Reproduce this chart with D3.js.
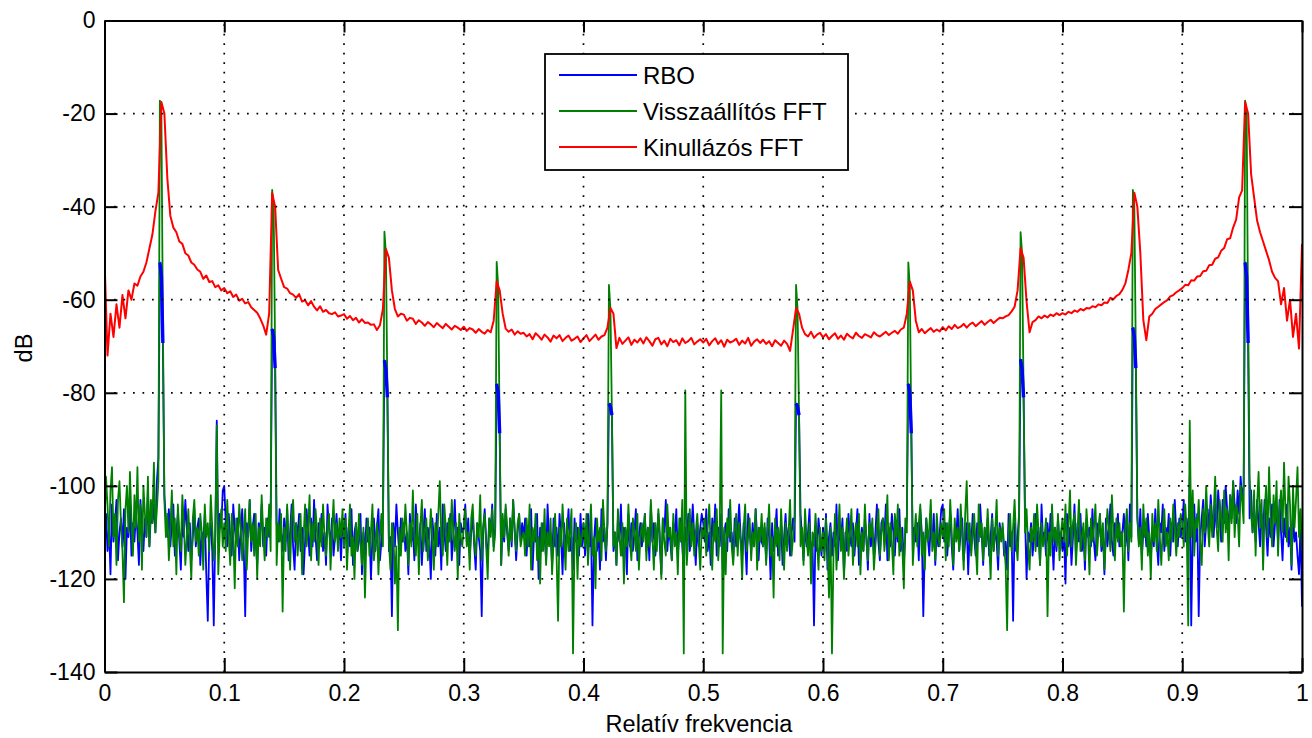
<!DOCTYPE html>
<html><head><meta charset="utf-8">
<script src="https://cdn.jsdelivr.net/npm/d3@7"></script>
<style>
body{margin:0;background:#fff}
svg{display:block}
</style>
</head><body>
<svg id="c" width="1312" height="738"></svg>
<script>
// ---------------- data ----------------
const noiseStep = 0.00125;   // bin spacing of the RBO / Visszaállítós spectra (0 .. 1)
const kinullStep = 0.0025;   // bin spacing of the sampled Kinullázós curve (0 .. 1)
const xTicks = [0,0.1,0.2,0.3,0.4,0.5,0.6,0.7,0.8,0.9,1];
const xTickLabels = ["0","0.1","0.2","0.3","0.4","0.5","0.6","0.7","0.8","0.9","1"];
const yTicks = [0,-20,-40,-60,-80,-100,-120,-140];
const yTickLabels = ["0","-20","-40","-60","-80","-100","-120","-140"];
const seriesNames = ["RBO","Visszaállítós FFT","Kinullázós FFT"];
const seriesColors = ["#0000ff","#008000","#ff0000"];
const xLabel = "Relatív frekvencia";
const yLabel = "dB";

// RBO (blue) noise floor, one value per bin
const rboNoise = [
-111,-106,-114,-109,-119,-104,-112,-108,-103,-116,-110,-107,-113,-105,-120,-109,-111,-104,-115,-108,
-112,-106,-110,-117,-103,-109,-114,-107,-111,-101,-113,-106,-108,-104,-110,-99,-94,-105,-107,-103,
-102,-107,-111,-105,-113,-108,-104,-115,-110,-106,-112,-118,-107,-111,-103,-109,-114,-108,-116,-111,
-105,-113,-109,-107,-117,-110,-112,-106,-119,-129,-111,-108,-114,-130,-110,-86,-112,-106,-109,-101,
-100,-108,-113,-106,-111,-115,-104,-109,-112,-107,-116,-110,-105,-113,-128,-108,-111,-103,-114,-109,
-106,-112,-117,-108,-110,-104,-113,-109,-115,-107,-111,-106,-113,-110,-118,-108,-112,-105,-110,-114,
-107,-112,-105,-116,-110,-104,-113,-118,-108,-111,-106,-114,-109,-119,-112,-105,-110,-115,-107,-113,
-103,-111,-116,-108,-112,-106,-114,-110,-117,-104,-109,-113,-107,-115,-111,-106,-112,-109,-116,-108,
-111,-106,-115,-109,-113,-105,-117,-110,-108,-114,-112,-106,-119,-110,-115,-107,-112,-109,-120,-111,
-107,-114,-109,-105,-116,-112,-108,-113,-110,-106,-114,-111,-128,-108,-113,-104,-110,-115,-107,-112,
-108,-114,-110,-119,-106,-112,-109,-116,-104,-111,-113,-108,-117,-110,-105,-114,-109,-112,-120,-107,
-111,-115,-106,-113,-109,-118,-104,-110,-114,-108,-112,-106,-116,-111,-103,-113,-109,-117,-108,-110,
-109,-104,-112,-107,-115,-110,-106,-113,-118,-108,-111,-114,-128,-109,-105,-112,-116,-107,-110,-104,
-113,-109,-115,-106,-111,-117,-108,-112,-105,-110,-114,-107,-113,-103,-109,-116,-110,-106,-112,-108,
-111,-107,-115,-109,-113,-105,-118,-110,-112,-106,-120,-109,-114,-108,-111,-116,-104,-112,-110,-117,
-107,-113,-109,-115,-106,-111,-119,-108,-113,-110,-105,-114,-111,-118,-107,-112,-109,-115,-106,-113,
-108,-115,-111,-106,-113,-109,-130,-112,-107,-114,-110,-118,-105,-112,-109,-116,-108,-113,-111,-106,
-114,-110,-117,-107,-112,-104,-115,-109,-111,-119,-106,-113,-108,-114,-110,-105,-116,-111,-108,-113,
-110,-106,-114,-109,-116,-104,-112,-108,-115,-111,-106,-113,-119,-107,-110,-103,-114,-109,-112,-116,
-108,-111,-105,-115,-110,-107,-113,-118,-109,-112,-106,-114,-110,-104,-111,-117,-108,-113,-109,-106,
-108,-112,-105,-114,-110,-117,-107,-111,-104,-115,-109,-113,-106,-118,-110,-108,-114,-105,-112,-110,
-116,-107,-113,-109,-104,-111,-115,-108,-112,-119,-106,-110,-114,-108,-113,-105,-111,-116,-109,-112,
-113,-109,-116,-107,-111,-120,-108,-114,-110,-105,-115,-112,-108,-117,-111,-106,-113,-109,-115,-110,
-107,-112,-118,-109,-114,-106,-111,-116,-108,-113,-110,-105,-117,-112,-130,-109,-114,-107,-111,-115,
-109,-114,-106,-118,-111,-108,-115,-110,-113,-104,-116,-109,-112,-107,-119,-110,-114,-106,-111,-113,
-108,-115,-110,-105,-117,-112,-109,-114,-107,-111,-118,-106,-113,-109,-115,-110,-104,-112,-116,-108,
-107,-111,-104,-116,-109,-113,-106,-110,-115,-108,-112,-105,-114,-109,-117,-110,-107,-113,-111,-106,
-114,-109,-112,-108,-116,-105,-110,-128,-113,-107,-111,-115,-108,-112,-106,-117,-109,-113,-110,-105,
-104,-112,-108,-115,-110,-106,-113,-118,-109,-111,-105,-114,-110,-107,-116,-112,-108,-119,-110,-113,
-106,-111,-115,-108,-112,-104,-110,-117,-109,-113,-107,-115,-111,-106,-114,-109,-112,-118,-108,-111,
-109,-115,-112,-118,-106,-113,-110,-129,-108,-114,-111,-106,-116,-109,-113,-107,-120,-110,-112,-108,
-115,-111,-106,-113,-109,-117,-104,-112,-110,-115,-108,-113,-106,-111,-118,-109,-114,-107,-112,-110,
-114,-110,-121,-106,-113,-109,-117,-111,-104,-115,-108,-112,-106,-114,-110,-118,-107,-111,-109,-113,
-105,-112,-116,-108,-111,-106,-114,-110,-119,-107,-113,-109,-104,-112,-115,-108,-111,-106,-113,-110,
-110,-106,-113,-108,-116,-104,-111,-109,-114,-118,-107,-112,-105,-115,-110,-108,-113,-106,-111,-116,
-109,-113,-105,-112,-117,-108,-110,-104,-114,-109,-111,-106,-115,-108,-112,-103,-110,-113,-107,-111,
-109,-103,-112,-107,-114,-105,-130,-110,-104,-112,-106,-128,-111,-107,-103,-113,-108,-105,-110,-102,
-107,-111,-104,-109,-101,-106,-112,-103,-108,-100,-105,-110,-102,-107,-99,-104,-108,-101,-106,-98,
-103,-100,-109,-104,-96,-107,-101,-110,-105,-112,-103,-108,-113,-106,-110,-103,-109,-115,-107,-111,
-104,-113,-108,-106,-112,-103,-110,-116,-107,-111,-104,-113,-109,-118,-106,-112,-110,-115,-119,-108,
-126];

// Visszaállítós FFT (green) noise floor, one value per bin
const visszNoise = [
-109,-98,-104,-113,-101,-96,-111,-106,-117,-103,-99,-108,-114,-125,-105,-100,-110,-97,-107,-115,
-102,-109,-96,-112,-104,-118,-100,-106,-111,-98,-113,-103,-108,-95,-110,-105,-99,-112,-104,-107,
-103,-111,-106,-116,-109,-101,-113,-107,-119,-104,-110,-114,-102,-108,-117,-111,-105,-113,-120,-107,
-103,-112,-109,-115,-106,-110,-118,-104,-111,-108,-114,-102,-109,-116,-112,-106,-119,-110,-105,-113,
-108,-114,-103,-111,-117,-106,-110,-122,-107,-113,-104,-109,-116,-111,-105,-118,-110,-103,-112,-108,
-115,-106,-120,-109,-113,-102,-110,-116,-107,-111,-104,-114,-109,-113,-105,-117,-108,-112,-106,-127,
-109,-114,-104,-111,-118,-107,-103,-112,-108,-115,-110,-106,-119,-111,-104,-113,-109,-102,-116,-108,
-112,-105,-110,-117,-107,-113,-104,-111,-115,-109,-106,-118,-110,-103,-112,-108,-114,-107,-111,-105,
-113,-107,-118,-110,-104,-115,-111,-120,-108,-114,-106,-112,-117,-109,-124,-111,-107,-115,-110,-104,
-116,-112,-108,-119,-111,-106,-113,-109,-114,-105,-112,-118,-108,-110,-121,-113,-131,-109,-115,-107,
-112,-104,-110,-117,-108,-113,-101,-111,-115,-106,-119,-109,-103,-114,-110,-107,-116,-112,-105,-111,
-118,-108,-113,-106,-99,-111,-115,-104,-109,-117,-107,-112,-103,-110,-114,-108,-120,-106,-111,-113,
-109,-105,-113,-110,-118,-107,-104,-112,-115,-108,-111,-102,-116,-109,-106,-113,-120,-107,-111,-105,
-114,-110,-103,-112,-108,-117,-106,-111,-104,-109,-115,-107,-112,-103,-110,-114,-108,-106,-113,-111,
-110,-115,-107,-113,-104,-118,-109,-112,-106,-116,-111,-121,-108,-114,-105,-117,-110,-113,-107,-119,
-112,-106,-115,-129,-109,-113,-104,-111,-118,-107,-114,-110,-105,-116,-112,-108,-120,-109,-113,-111,
-108,-113,-106,-117,-110,-104,-115,-111,-122,-107,-112,-109,-116,-103,-110,-114,-108,-119,-112,-106,
-113,-110,-117,-105,-111,-115,-108,-121,-109,-113,-104,-112,-116,-107,-110,-114,-106,-118,-111,-108,
-112,-106,-116,-109,-113,-103,-111,-118,-108,-114,-105,-110,-120,-107,-112,-115,-104,-111,-109,-116,
-106,-113,-110,-119,-107,-112,-103,-114,-109,-117,-111,-105,-113,-108,-115,-110,-106,-112,-118,-109,
-111,-107,-115,-109,-104,-113,-118,-108,-112,-105,-116,-110,-106,-114,-109,-119,-107,-111,-103,-113,
-117,-110,-106,-115,-108,-112,-120,-109,-104,-114,-111,-107,-116,-110,-113,-105,-118,-109,-112,-106,
-113,-108,-117,-110,-104,-115,-111,-124,-107,-113,-109,-116,-105,-112,-118,-108,-114,-110,-103,-115,
-111,-107,-119,-112,-106,-113,-109,-117,-105,-111,-115,-108,-121,-110,-113,-106,-112,-118,-109,-114,
-110,-116,-107,-113,-124,-109,-112,-115,-106,-118,-111,-104,-114,-109,-120,-112,-107,-115,-110,-105,
-117,-111,-108,-113,-106,-119,-110,-114,-104,-112,-116,-108,-111,-107,-118,-113,-109,-105,-115,-110,
-107,-114,-110,-102,-116,-108,-112,-119,-106,-111,-104,-115,-109,-113,-122,-107,-110,-105,-114,-109,
-117,-111,-106,-113,-108,-104,-115,-110,-118,-107,-112,-109,-103,-114,-110,-116,-106,-111,-113,-108,
-111,-105,-116,-108,-113,-103,-110,-117,-107,-112,-109,-114,-104,-111,-118,-106,-99,-112,-108,-115,
-110,-106,-113,-119,-104,-111,-108,-116,-109,-113,-105,-112,-120,-107,-114,-110,-103,-115,-109,-112,
-108,-113,-117,-131,-110,-106,-114,-109,-103,-112,-116,-107,-111,-108,-115,-110,-105,-113,-118,-109,
-112,-106,-114,-104,-110,-117,-108,-113,-111,-107,-128,-110,-115,-104,-112,-109,-113,-106,-116,-110,
-107,-112,-104,-115,-109,-101,-113,-108,-106,-117,-110,-103,-114,-111,-108,-116,-105,-110,-119,-107,
-112,-109,-104,-115,-110,-106,-113,-108,-118,-111,-105,-109,-114,-102,-110,-116,-107,-112,-108,-113,
-110,-127,-109,-105,-114,-108,-112,-103,-116,-110,-106,-113,-109,-118,-104,-111,-107,-115,-110,-120,
-106,-112,-108,-114,-103,-111,-117,-109,-105,-113,-110,-116,-107,-112,-104,-109,-115,-108,-111,-106,
-108,-113,-104,-110,-130,-107,-111,-101,-115,-107,-109,-103,-112,-117,-105,-110,-100,-108,-113,-104,
-111,-106,-98,-109,-114,-103,-107,-112,-101,-110,-105,-116,-102,-108,-99,-111,-104,-106,-113,-100,
-103,-108,-100,-104,-112,-98,-106,-110,-101,-115,-104,-97,-109,-103,-118,-106,-100,-111,-96,-107,
-113,-102,-108,-99,-115,-105,-101,-110,-95,-106,-112,-98,-104,-117,-100,-109,-103,-96,-111,-105,
-114];

// smooth part of Kinullázós FFT (red), one value per kinullStep
const kinullBase = [
-51,-72,-63,-68,-61,-66,-59,-64,-58,-60,-56.5,-57,-55,-54,-52,-49,-46,-41,-37,-30,
-37,-34,-42,-44.5,-45.5,-47.5,-48,-50,-50.5,-52,-52.5,-53.5,-54,-55.5,-54.8,-56.2,-56,-57.3,-56.9,-58,
-57.5,-58.6,-58.2,-59.4,-58.9,-60.2,-59.8,-60.8,-60.5,-61.6,-62.2,-62.8,-64,-65.5,-67.5,-63,-45,-45,-53.6,-55.5,
-57.3,-57.6,-58.6,-58.9,-59.6,-58.8,-60.4,-60.1,-61.2,-60.3,-61.5,-62.3,-61.4,-62.6,-62.2,-62.9,-63.1,-62.7,-63.6,-63.4,
-63.1,-64.1,-63.5,-64.4,-63.9,-64.9,-64.2,-65,-64.9,-65.4,-65.3,-66.5,-65.5,-62,-50,-50,-58,-62,-63.6,-63,
-63.2,-64.5,-63.9,-64.1,-65.2,-64.4,-64.9,-65.6,-64.8,-65.3,-65.9,-65,-65.6,-66.1,-65.2,-65.8,-66.4,-65.6,-66,-66.5,
-65.8,-66.7,-66.1,-66.4,-67.1,-66.3,-66.9,-67.3,-66.5,-67,-64.5,-57,-57,-63,-66.2,-66.9,-66.4,-67.5,-66.8,-67.3,
-67.1,-67.9,-67.4,-68.5,-67.2,-67.8,-68.6,-67.5,-68.1,-69,-67.7,-68.3,-67.6,-68.9,-68.2,-67.7,-68.8,-68.4,-67.9,-69.1,
-68.3,-67.6,-68.9,-68.2,-67.5,-68.6,-67.9,-67.6,-66,-62,-63,-70.4,-68.2,-69.5,-68.8,-68.1,-69.7,-68.6,-69.2,-68.3,
-69.4,-68.1,-68.9,-69.9,-68.5,-68.2,-69.6,-68.8,-70,-68.4,-69.1,-68.7,-69.8,-68.3,-69.3,-68.9,-68.2,-69.6,-69,-68.5,
-69.2,-68.4,-69.8,-68.9,-68.3,-69.5,-68.7,-70.1,-68.6,-69.2,-68.9,-68.4,-69.7,-68.8,-69.4,-68.2,-69.9,-69,-68.5,-69.3,
-68.6,-69.5,-68.9,-70,-68.7,-69.3,-69.9,-68.8,-69.5,-71,-66.5,-62,-63,-66,-67.4,-67.9,-66.9,-68.2,-67.5,-67.1,
-68.1,-67.4,-68.5,-67.8,-67.2,-68.4,-67.7,-68.6,-67.3,-67.9,-68.3,-67.1,-67.8,-68.2,-67.4,-67.7,-68.1,-67,-67.6,-67.9,
-67.4,-66.9,-67.6,-67.1,-66.7,-67.3,-66.4,-66,-63,-57,-57,-64.5,-67,-66.3,-67.2,-66.6,-66.1,-66.9,-66.4,-66.8,
-65.9,-66.6,-65.7,-66.3,-65.4,-66.1,-65.8,-65.2,-66,-65.3,-64.9,-65.7,-65.1,-64.6,-65.4,-64.8,-64.3,-65,-64.4,-63.9,
-64,-63.6,-63.3,-62.5,-61.5,-58,-50,-50,-60.4,-67,-64.8,-64.4,-63.6,-64,-63.4,-63.8,-63.2,-63.5,-62.9,-63.3,
-62.9,-63.2,-62.6,-62.9,-62.3,-62.6,-62,-62.3,-61.8,-61.9,-61.4,-61.6,-61,-61.2,-60.6,-60.7,-59.6,-59.9,-59.2,-58.8,
-57.9,-56.5,-53.6,-50,-45,-45,-50,-64.4,-68.7,-63.6,-63,-62,-61.5,-61,-60.5,-60.1,-59.3,-59,-58.4,-58,
-57.5,-56.8,-56.9,-55.8,-55.9,-55,-54.9,-53.9,-53.8,-52.6,-52.5,-51.2,-50.9,-49.5,-48.9,-47,-46.8,-44.5,-42.8,-38,
-36.5,-30,-30,-33,-38,-43,-45.5,-47.5,-49.5,-51.5,-54,-55.3,-56,-61,-57.5,-64.5,-60,-68,-63,-70.5,
-48];

// harmonic lines (odd multiples of 3/64)
const harmonicFreq = [0.0469,0.1406,0.2344,0.3281,0.4219,0.5781,0.6719,0.7656,0.8594,0.9531];
// RBO and Visszaállítós: peak bin, following bin, third bin
const rboPeakTop    = [-52,-66.3,-73,-78.1,-82.3,-82.3,-78.1,-72.8,-66,-52];
const rboPeakMid    = [-55,-68,-75,-80,-83,-83,-80,-75,-68,-55];
const rboPeakNext   = [-69.3,-74.7,-81,-88.7,-84.8,-84.8,-88.7,-81,-74.7,-69.3];
const visszPeakTop  = [-17.2,-36.4,-45.4,-51.9,-56.8,-56.8,-52,-45.5,-36.4,-17.2];
const visszPeakMid  = [-20,-40,-50,-57,-62,-62,-57,-50,-40,-20];
const visszPeakNext = [-64,-72,-80,-88,-85,-85,-88,-80,-72,-64];
// Kinullázós: peak bin and following bin
const kinullPeakTop = [-17.5,-37.1,-49.1,-56.1,-61.8,-61.8,-56.1,-48.9,-37,-17.5];
const kinullPeakNext= [-20,-40,-51,-58,-63,-63,-58,-51,-40,-20];

// isolated spurs
const rboSpurFreq = [0.09375,0.90625];
const rboSpurVal  = [-86,-98];
const visszSpurFreq = [0.09375,0.39125,0.48375,0.485,0.515,0.51625,0.6075,0.90625];
const visszSpurVal  = [-87,-136,-136,-79.5,-79.5,-136,-136,-86];

// ---------------- chart ----------------
const W = 1312, H = 738;
const m = {left:104.5, right:1302, top:20.5, bottom:672};
const FONT = "Arial, 'Liberation Sans', Helvetica, sans-serif";

const x = d3.scaleLinear().domain([0,1]).range([m.left, m.right]);
const y = d3.scaleLinear().domain([-140,0]).range([m.bottom, m.top]);

const svg = d3.select("#c");
svg.append("rect").attr("width",W).attr("height",H).attr("fill","#fff");
svg.append("clipPath").attr("id","clip").append("rect")
  .attr("x",m.left).attr("y",m.top).attr("width",m.right-m.left).attr("height",m.bottom-m.top);

// peaks: list of value arrays placed on consecutive bins starting at the harmonic bin
function buildSeries(base, step, binOf, peaks, spF, spV){
  const v = base.slice();
  harmonicFreq.forEach((f,k)=>{ const i = binOf(f/step); peaks.forEach((arr,j)=>{ v[i+j]=arr[k]; }); });
  spF.forEach((f,k)=>{ v[Math.round(f/step)] = spV[k]; });
  return v.map((d,i)=>({f:i*step, v:d}));
}
const rboSeries    = buildSeries(rboNoise, noiseStep, Math.floor, [rboPeakTop,rboPeakMid,rboPeakNext], rboSpurFreq, rboSpurVal);
const visszSeries  = buildSeries(visszNoise, noiseStep, Math.floor, [visszPeakTop,visszPeakMid,visszPeakNext], visszSpurFreq, visszSpurVal);
const kinullSeries = buildSeries(kinullBase, kinullStep, Math.round, [kinullPeakTop,kinullPeakNext], [], []);

const line = d3.line().x(d=>x(d.f)).y(d=>y(d.v));
const gData = svg.append("g").attr("clip-path","url(#clip)");
function drawLine(data, color, width){
  gData.append("path").datum(data).attr("d", line).attr("fill","none")
    .attr("stroke",color).attr("stroke-width",width).attr("stroke-linejoin","round");
}
drawLine(rboSeries, seriesColors[0], 1.8);
drawLine(visszSeries, seriesColors[1], 1.8);
// the RBO harmonic bars remain visible above the green spikes
harmonicFreq.forEach(f=>{
  const i = Math.floor(f/noiseStep);
  gData.append("path").datum(rboSeries.slice(i, i+3)).attr("d", line).attr("fill","none")
    .attr("stroke",seriesColors[0]).attr("stroke-width",3.4).attr("stroke-linejoin","round");
});
drawLine(kinullSeries, seriesColors[2], 2);

// dotted grid
const gGrid = svg.append("g").attr("stroke","#000").attr("stroke-width",1.7).attr("stroke-dasharray","1.7,7.8");
gGrid.selectAll("line.v").data(xTicks.filter(t=>t>0&&t<1)).join("line").attr("class","v")
  .attr("x1",d=>x(d)).attr("x2",d=>x(d)).attr("y1",m.bottom).attr("y2",m.top);
gGrid.selectAll("line.h").data(yTicks.filter(t=>t<0&&t>-140)).join("line").attr("class","h")
  .attr("y1",d=>y(d)).attr("y2",d=>y(d)).attr("x1",m.left).attr("x2",m.right);

// axes
function styleAxis(g){
  g.attr("font-family",FONT).attr("font-size",23);
  g.selectAll(".domain").attr("stroke","#000").attr("stroke-width",2);
  g.selectAll(".tick line").attr("stroke","#000").attr("stroke-width",2);
  g.selectAll(".tick text").attr("fill","#000");
}
svg.append("g").attr("transform",`translate(0,${m.bottom})`)
  .call(d3.axisBottom(x).tickValues(xTicks).tickFormat((d,i)=>xTickLabels[i]).tickSizeInner(-14).tickSizeOuter(0).tickPadding(13))
  .call(styleAxis);
svg.append("g").attr("transform",`translate(0,${m.top})`)
  .call(d3.axisTop(x).tickValues(xTicks).tickFormat("").tickSizeInner(-12).tickSizeOuter(0))
  .call(styleAxis);
svg.append("g").attr("transform",`translate(${m.left},0)`)
  .call(d3.axisLeft(y).tickValues(yTicks).tickFormat((d,i)=>yTickLabels[i]).tickSizeInner(-13).tickSizeOuter(0).tickPadding(9))
  .call(styleAxis);
svg.append("g").attr("transform",`translate(${m.right},0)`)
  .call(d3.axisRight(y).tickValues(yTicks).tickFormat("").tickSizeInner(-13).tickSizeOuter(0))
  .call(styleAxis);

// axis labels
svg.append("text").attr("x",699).attr("y",731.5).attr("text-anchor","middle")
  .attr("font-family",FONT).attr("font-size",23.5).attr("fill","#000").text(xLabel);
svg.append("text").attr("transform","translate(31.5,348) rotate(-90)").attr("text-anchor","middle")
  .attr("font-family",FONT).attr("font-size",23.5).attr("fill","#000").text(yLabel);

// legend
const lg = svg.append("g");
lg.append("rect").attr("x",545).attr("y",54).attr("width",303).attr("height",116)
  .attr("fill","#fff").attr("stroke","#000").attr("stroke-width",1.8);
const rowY = d3.scalePoint().domain(seriesNames).range([75,147]);
const item = lg.selectAll("g.it").data(seriesNames).join("g").attr("class","it");
item.append("line").attr("x1",559).attr("x2",637).attr("y1",d=>rowY(d)).attr("y2",d=>rowY(d))
  .attr("stroke",(d,i)=>seriesColors[i]).attr("stroke-width",2);
item.append("text").attr("x",643).attr("y",d=>rowY(d)).attr("dy","0.36em")
  .attr("font-family",FONT).attr("font-size",24).attr("fill","#000").text(d=>d);
</script>
</body></html>
